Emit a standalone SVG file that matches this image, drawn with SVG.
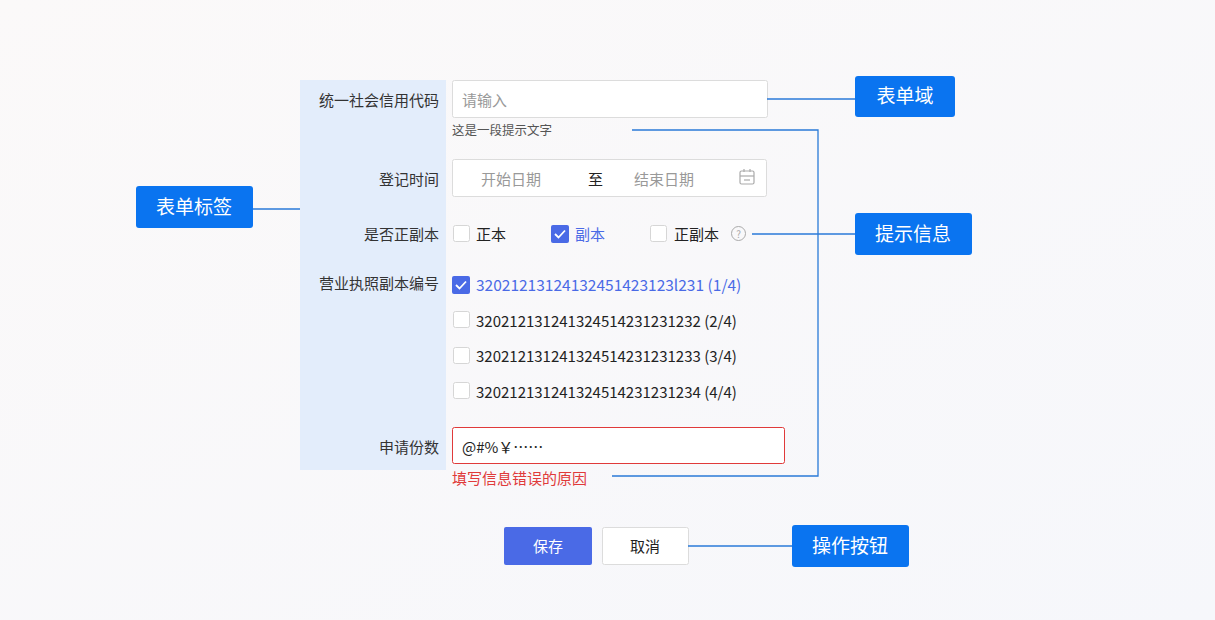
<svg xmlns="http://www.w3.org/2000/svg" width="1215" height="620" viewBox="0 0 1215 620">
<style>
text{font-family:"Noto Sans CJK SC","Noto Sans",sans-serif}
.lb{font-size:15px;fill:#333;text-anchor:end}
.tx{font-size:15px;fill:#222}
.ph{font-size:15px;fill:#999}
.box{fill:#fff;stroke:#dcdcdc;stroke-width:1}
.cb{fill:#fff;stroke:#d6d6d6}
.call rect{fill:#0a74f0}
.call text{font-size:19px;fill:#fff;text-anchor:middle}
.ln{fill:none;stroke:#2a7ad8;stroke-width:1.3}
</style>
<defs><linearGradient id="bg" x1="0" y1="0" x2="1" y2="1"><stop offset="0" stop-color="#fbf9f9"/><stop offset="1" stop-color="#f6f7fb"/></linearGradient></defs>
<rect width="1215" height="620" fill="url(#bg)"/>
<rect x="300" y="80" width="146" height="390" fill="#e3edfb"/>
<g id="form">
<text class="lb" x="439" y="106">统一社会信用代码</text>
<rect class="box" x="452.5" y="80.5" width="315" height="37" rx="2"/>
<text class="ph" x="462" y="106">请输入</text>
<text x="452" y="135" font-size="12.5" fill="#555">这是一段提示文字</text>
<text class="lb" x="439" y="185">登记时间</text>
<rect class="box" x="452.5" y="159.5" width="314" height="37" rx="2"/>
<text class="ph" x="481" y="185">开始日期</text>
<text class="tx" x="588" y="185">至</text>
<text class="ph" x="634" y="185">结束日期</text>
<g fill="none" stroke="#aaa" stroke-width="1.2"><rect x="740" y="171" width="14" height="13" rx="1.5"/><line x1="740" y1="176" x2="754" y2="176"/><line x1="744" y1="169" x2="744" y2="172"/><line x1="750" y1="169" x2="750" y2="172"/><line x1="744" y1="180" x2="750" y2="180"/></g>
<text class="lb" x="439" y="240">是否正副本</text>
<rect class="cb" x="453.5" y="225.5" width="16" height="16" rx="2"/>
<text class="tx" x="476" y="240">正本</text>
<rect x="551" y="225" width="18" height="18" rx="2" fill="#4a6ae6"/>
<path d="M555 234 l3.5 3.5 l6.5 -7" fill="none" stroke="#fff" stroke-width="1.8"/>
<text x="575" y="240" font-size="15" fill="#4a6ae6">副本</text>
<rect class="cb" x="650.5" y="225.5" width="16" height="16" rx="2"/>
<text class="tx" x="674" y="240">正副本</text>
<circle cx="738.5" cy="233.5" r="7" fill="none" stroke="#aaa"/>
<text x="738.5" y="237.5" font-size="10" fill="#aaa" text-anchor="middle">?</text>
<text class="lb" x="439" y="289">营业执照副本编号</text>
<rect x="452" y="276" width="18" height="18" rx="2" fill="#4a6ae6"/>
<path d="M456 285 l3.5 3.5 l6.5 -7" fill="none" stroke="#fff" stroke-width="1.8"/>
<text x="476" y="291" font-size="15.5" fill="#4a6ae6">32021213124132451423123l231 (1/4)</text>
<rect class="cb" x="453.5" y="311.5" width="16" height="16" rx="2"/>
<text class="tx" x="476" y="327" font-size="15.5">320212131241324514231231232 (2/4)</text>
<rect class="cb" x="453.5" y="347.5" width="16" height="16" rx="2"/>
<text class="tx" x="476" y="362" font-size="15.5">320212131241324514231231233 (3/4)</text>
<rect class="cb" x="453.5" y="382.5" width="16" height="16" rx="2"/>
<text class="tx" x="476" y="398" font-size="15.5">320212131241324514231231234 (4/4)</text>
<text class="lb" x="439" y="453">申请份数</text>
<rect x="452.5" y="427.5" width="332" height="36" rx="2" fill="#fff" stroke="#e03a3a"/>
<text class="tx" x="462" y="453">@#%￥……</text>
<text x="452" y="484" font-size="15" fill="#e03a3a">填写信息错误的原因</text>
</g>
<g id="btn-save"><rect x="504" y="527" width="88" height="38" rx="2" fill="#4a6ae6"/><text x="548" y="552" font-size="15" fill="#fff" text-anchor="middle">保存</text></g>
<g id="btn-cancel"><rect x="602.5" y="527.5" width="86" height="37" rx="2" fill="#fff" stroke="#dcdcdc"/><text x="645" y="552" font-size="15" fill="#222" text-anchor="middle">取消</text></g>
<g id="connectors">
<path class="ln" d="M767 99 H855"/>
<path class="ln" d="M253 209 H300"/>
<path class="ln" d="M632 130 H818 V476 H612"/>
<path class="ln" d="M752 234 H855"/>
<path class="ln" d="M688 546 H792"/>
</g>
<g id="c1" class="call"><rect x="855" y="76" width="100" height="41" rx="3"/><text x="905" y="103">表单域</text></g>
<g id="c2" class="call"><rect x="855" y="213" width="117" height="42" rx="3"/><text x="913" y="241">提示信息</text></g>
<g id="c3" class="call"><rect x="136" y="186" width="117" height="42" rx="3"/><text x="194" y="214">表单标签</text></g>
<g id="c4" class="call"><rect x="792" y="525" width="117" height="42" rx="3"/><text x="850" y="553">操作按钮</text></g>
</svg>
